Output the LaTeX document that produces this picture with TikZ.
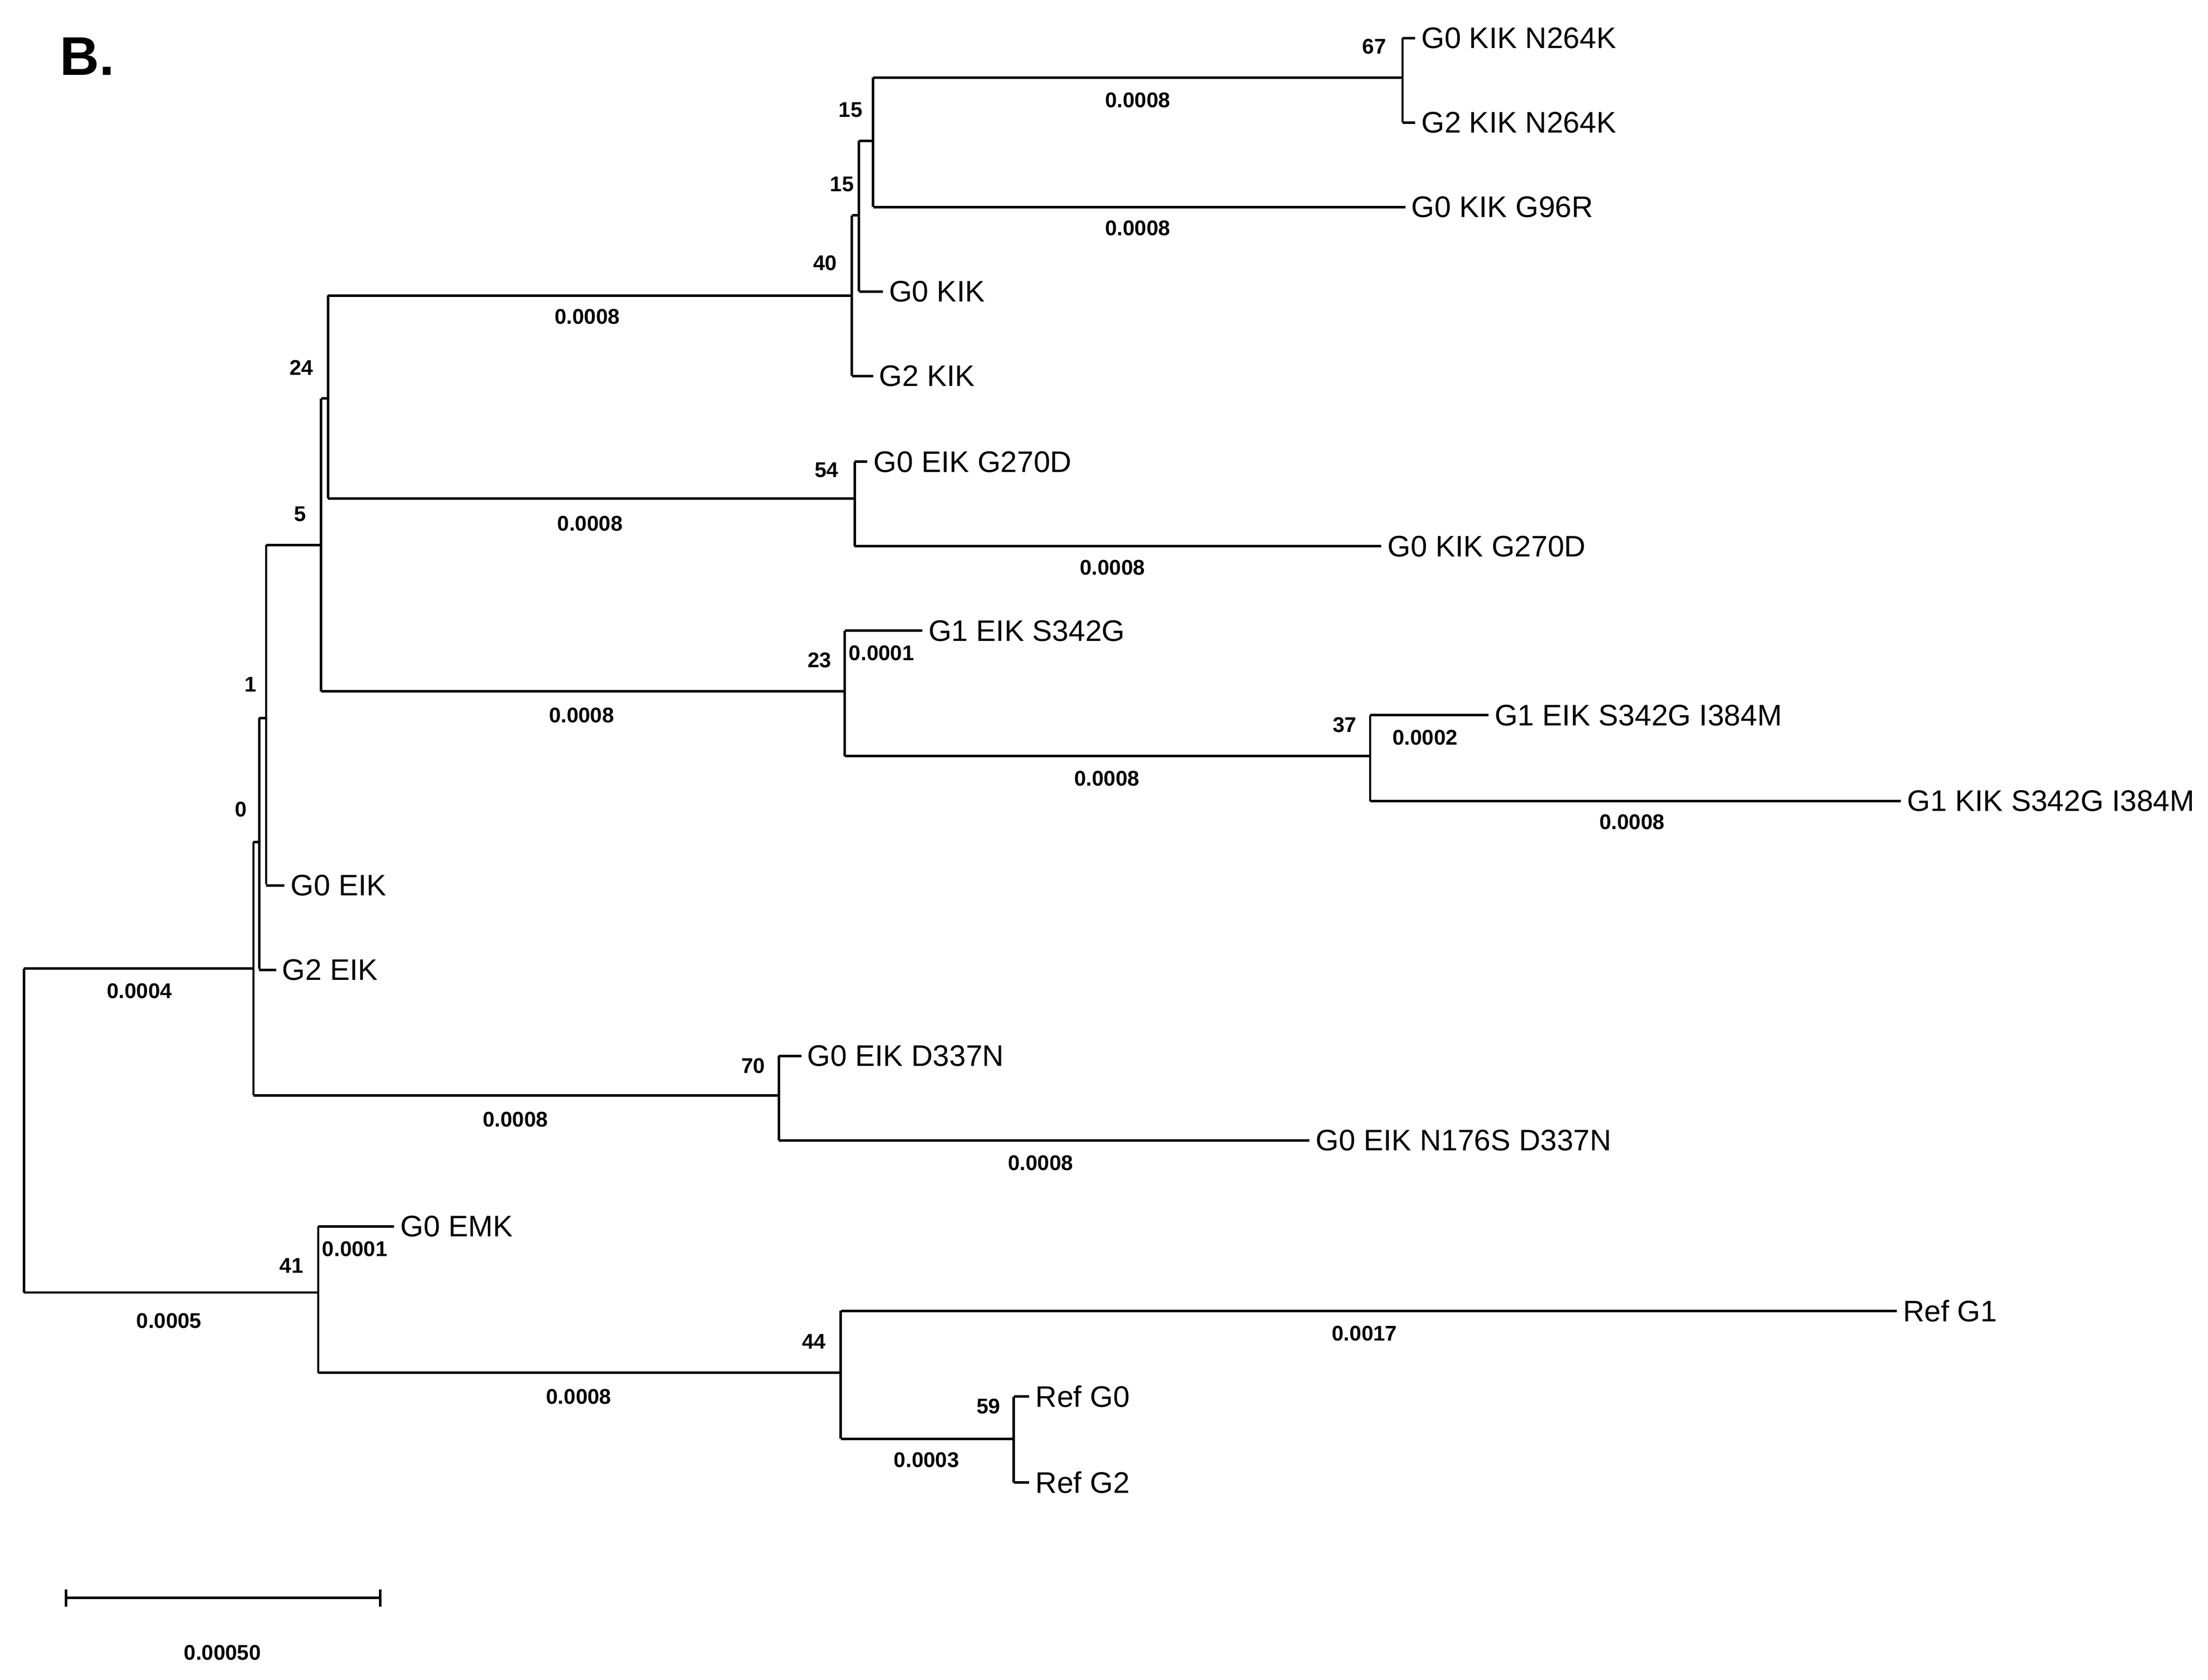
\documentclass[tikz,border=0pt]{standalone}
\usepackage{fontspec}
\setmainfont{Liberation Sans}
\begin{document}
\begin{tikzpicture}[x=0.01cm,y=-0.01cm,line width=0.5pt,
 leaf/.style={anchor=west,font=\fontsize{6pt}{7pt}\selectfont,inner sep=1pt},
 bl/.style={font=\bfseries\fontsize{4.3pt}{5pt}\selectfont,inner sep=0pt},
 bs/.style={font=\bfseries\fontsize{4.3pt}{5pt}\selectfont,inner sep=0pt}]
\useasboundingbox (0,0) rectangle (1568,1193);
\node[font=\bfseries\fontsize{11pt}{12pt}\selectfont] (title) at (62,40) {B.};
% internal nodes
\coordinate (R) at (17,688);
\coordinate (N1) at (180,688);
\coordinate (N2) at (184,598);
\coordinate (N3) at (189,510);
\coordinate (N4) at (228,387);
\coordinate (N5) at (233,283);
\coordinate (N7) at (605,210);
\coordinate (N9) at (610,153);
\coordinate (N10) at (620,100);
\coordinate (N11) at (996,55);
\coordinate (N8) at (607,354);
\coordinate (N6) at (600,491);
\coordinate (N12) at (973,537);
\coordinate (N13) at (553,778);
\coordinate (N14) at (226,921);
\coordinate (N15) at (597,975);
\coordinate (N16) at (720,1022);
% leaves
\node[leaf] (l1) at (1005,27) {G0 KIK N264K};
\node[leaf] (l2) at (1005,87) {G2 KIK N264K};
\node[leaf] (l3) at (998,147) {G0 KIK G96R};
\node[leaf] (l4) at (627,207) {G0 KIK};
\node[leaf] (l5) at (620,267) {G2 KIK};
\node[leaf] (l6) at (616,328) {G0 EIK G270D};
\node[leaf] (l7) at (981,388) {G0 KIK G270D};
\node[leaf] (l8) at (655,448) {G1 EIK S342G};
\node[leaf] (l9) at (1057,508) {G1 EIK S342G I384M};
\node[leaf] (l10) at (1350,569) {G1 KIK S342G I384M};
\node[leaf] (l11) at (202,629) {G0 EIK};
\node[leaf] (l12) at (196,689) {G2 EIK};
\node[leaf] (l13) at (569,750) {G0 EIK D337N};
\node[leaf] (l14) at (930,810) {G0 EIK N176S D337N};
\node[leaf] (l15) at (280,871) {G0 EMK};
\node[leaf] (l16) at (1347,931) {Ref G1};
\node[leaf] (l17) at (731,992) {Ref G0};
\node[leaf] (l18) at (731,1053) {Ref G2};
% branches
\draw (R|-N1) -- (N1);
\draw (17,918) -- (N14|-0,918);
\draw (R|-0,688) -- (17,918);
\draw (N1|-0,598) -- (N1|-0,778);
\draw (N1|-N2) -- (N2) (N1|-N13) -- (N13);
\draw (N2|-0,510) -- (N2|-0,688);
\draw (N2|-N3) -- (N3); \draw (N2|-l12) -- (l12.west);
\draw (N3|-0,387) -- (N3|-0,628);
\draw (N3|-N4) -- (N4); \draw (N3|-l11) -- (l11.west);
\draw (N4|-0,283) -- (N4|-0,491);
\draw (N4|-N5) -- (N5); \draw (N4|-N6) -- (N6);
\draw (N5|-0,210) -- (N5|-0,354);
\draw (N5|-N7) -- (N7); \draw (N5|-N8) -- (N8);
\draw (N7|-N9) -- (N7|-l5); \draw (N7|-N9) -- (N9); \draw (N7|-l5) -- (l5.west);
\draw (N9|-N10) -- (N9|-l4); \draw (N9|-N10) -- (N10); \draw (N9|-l4) -- (l4.west);
\draw (N10|-N11) -- (N10|-l3); \draw (N10|-N11) -- (N11); \draw (N10|-l3) -- (l3.west);
\draw (N11|-l1) -- (N11|-l2); \draw (N11|-l1) -- (l1.west); \draw (N11|-l2) -- (l2.west);
\draw (N8|-l6) -- (N8|-l7); \draw (N8|-l6) -- (l6.west); \draw (N8|-l7) -- (l7.west);
\draw (N6|-l8) -- (N6|-N12); \draw (N6|-l8) -- (l8.west); \draw (N6|-N12) -- (N12);
\draw (N12|-l9) -- (N12|-l10); \draw (N12|-l9) -- (l9.west); \draw (N12|-l10) -- (l10.west);
\draw (N13|-l13) -- (N13|-l14); \draw (N13|-l13) -- (l13.west); \draw (N13|-l14) -- (l14.west);
\draw (N14|-l15) -- (N14|-N15); \draw (N14|-l15) -- (l15.west); \draw (N14|-N15) -- (N15);
\draw (N15|-l16) -- (N15|-N16); \draw (N15|-l16) -- (l16.west); \draw (N15|-N16) -- (N16);
\draw (N16|-l17) -- (N16|-l18); \draw (N16|-l17) -- (l17.west); \draw (N16|-l18) -- (l18.west);
% bootstrap
\node[bs] (b1) at (976,33) {67};
\node[bs] (b2) at (604,78) {15};
\node[bs] (b3) at (598,131) {15};
\node[bs] (b4) at (586,187) {40};
\node[bs] (b5) at (214,261) {24};
\node[bs] (b6) at (587,334) {54};
\node[bs] (b7) at (213,365) {5};
\node[bs] (b8) at (582,469) {23};
\node[bs] (b9) at (955,515) {37};
\node[bs] (b10) at (178,486) {1};
\node[bs] (b11) at (171,575) {0};
\node[bs] (b12) at (535,757) {70};
\node[bs] (b13) at (207,899) {41};
\node[bs] (b14) at (578,953) {44};
\node[bs] (b15) at (702,999) {59};
% branch lengths
\node[bl] (d1) at (808,71) {0.0008};
\node[bl] (d2) at (808,162) {0.0008};
\node[bl] (d3) at (417,225) {0.0008};
\node[bl] (d4) at (419,372) {0.0008};
\node[bl] (d5) at (790,403) {0.0008};
\node[bl] (d6) at (626,464) {0.0001};
\node[bl] (d7) at (413,508) {0.0008};
\node[bl] (d8) at (1012,524) {0.0002};
\node[bl] (d9) at (786,553) {0.0008};
\node[bl] (d10) at (1159,584) {0.0008};
\node[bl] (d11) at (99,704) {0.0004};
\node[bl] (d12) at (366,795) {0.0008};
\node[bl] (d13) at (739,826) {0.0008};
\node[bl] (d14) at (252,887) {0.0001};
\node[bl] (d15) at (120,938) {0.0005};
\node[bl] (d16) at (969,947) {0.0017};
\node[bl] (d17) at (411,992) {0.0008};
\node[bl] (d18) at (658,1037) {0.0003};
% scale bar
\coordinate (s1) at (47,1135); \coordinate (s2) at (270,1135);
\draw (s1) -- (s2); \draw (47,1129) -- (47,1141); \draw (270,1129) -- (270,1141);
\node[bl] (sc) at (158,1174) {0.00050};
\end{tikzpicture}
\end{document}
